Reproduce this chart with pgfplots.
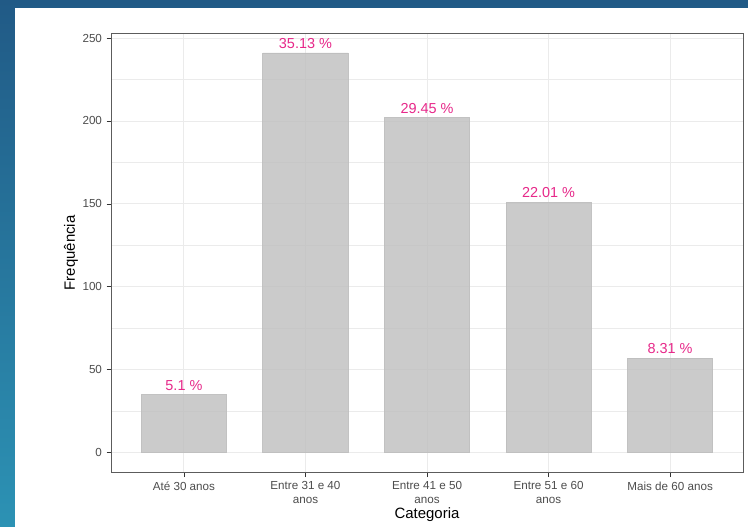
\documentclass[border=0pt]{standalone}
\usepackage{pgfplots}
\pgfplotsset{compat=1.18}
\usepackage{fontspec}
\setmainfont{Liberation Sans}
\definecolor{pinklab}{HTML}{E7298A}
\definecolor{gridc}{HTML}{EBEBEB}
\definecolor{barfill}{HTML}{BEBEBE}
\definecolor{gtick}{HTML}{4D4D4D}
\definecolor{gaxis}{HTML}{333333}
\begin{document}
\begin{tikzpicture}[x=1bp,y=1bp]
\shade[top color={rgb,255:red,33;green,90;blue,134}, bottom color={rgb,255:red,44;green,146;blue,180}] (0,0) rectangle (748,527);
\fill[white] (15,0) rectangle (748,519);
\begin{axis}[
  at={(111bp,54.3bp)}, anchor=south west,
  scale only axis, width=632bp, height=439.7bp,
  xmin=0.4, xmax=5.6, ymin=-12.05, ymax=253.05,
  xtick={1,2,3,4,5},
  xticklabels={{Até 30 anos},{Entre 31 e 40\\anos},{Entre 41 e 50\\anos},{Entre 51 e 60\\anos},{Mais de 60 anos}},
  ytick={0,50,100,150,200,250},
  minor ytick={25,75,125,175,225},
  xmajorgrids, ymajorgrids, yminorgrids,
  major grid style={draw=gridc, line width=0.9bp},
  minor grid style={draw=gridc, line width=0.6bp},
  tick pos=left, tick align=outside,
  major tick length=4.5bp, minor tick length=0pt,
  tick style={draw=gaxis, line width=0.8bp},
  axis line style={draw=gaxis!80, line width=0.9bp},
  /pgf/number format/assume math mode=true,
  tick label style={font=\fontsize{11.7}{13.3}\selectfont, text=gtick},
  x tick label style={align=center, anchor=north, yshift=-1bp},
  y tick label style={anchor=east, xshift=-1bp},
  xlabel={Categoria}, ylabel={Frequência},
  label style={font=\fontsize{15}{17}\selectfont},
  xlabel style={at={(axis description cs:0.5,-0.1053)}, anchor=base},
  ylabel style={at={(axis description cs:-0.057,0.5)}, anchor=base},
  ybar, bar width=0.7,
  point meta=explicit symbolic,
  nodes near coords,
  every node near coord/.append style={anchor=base, yshift=4.5bp, font=\fontsize{14.5}{16}\selectfont, text=pinklab},
]
\addplot[fill=barfill, fill opacity=0.8, draw=barfill, draw opacity=0.9, line width=0.9bp, text opacity=1] coordinates {
  (1,35) [5.1 \%]
  (2,241) [35.13 \%]
  (3,202) [29.45 \%]
  (4,151) [22.01 \%]
  (5,57) [8.31 \%]
};
\end{axis}
\end{tikzpicture}
\end{document}
